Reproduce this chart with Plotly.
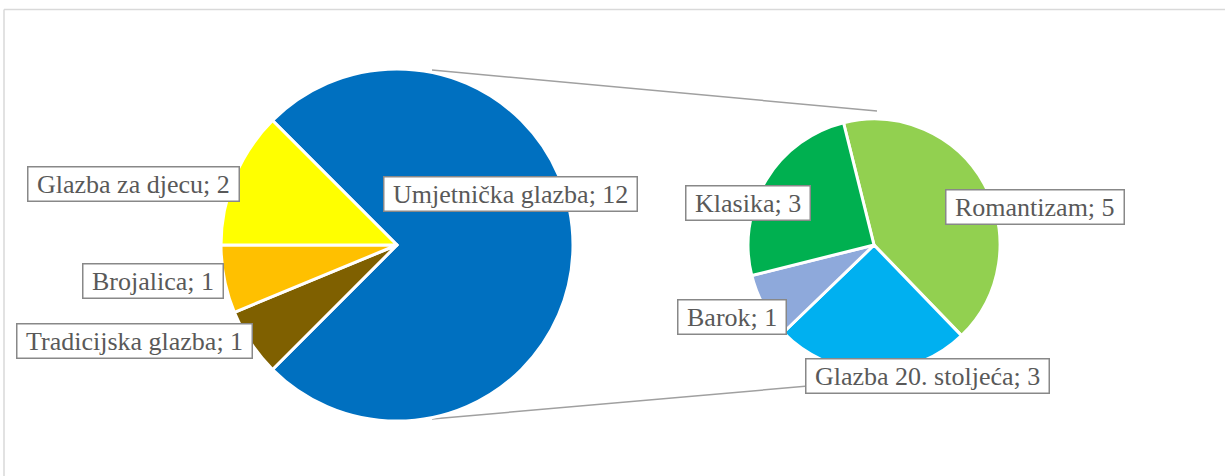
import plotly.graph_objects as go

W, H = 1225, 476

# main pie
main_labels = ['Umjetnička glazba', 'Tradicijska glazba', 'Brojalica', 'Glazba za djecu']
main_values = [12, 1, 1, 2]
main_colors = ['#0070C0', '#7F6000', '#FFC000', '#FFFF00']

# secondary pie (breakdown of Umjetnička glazba)
sub_labels = ['Romantizam', 'Glazba 20. stoljeća', 'Barok', 'Klasika']
sub_values = [5, 3, 1, 3]
sub_colors = ['#92D050', '#00B0F0', '#8EA9DB', '#00B050']

# label box centres in pixels
main_label_pos = [(510, 194), (134, 341), (153, 281), (133, 184)]
sub_label_pos = [(1035, 207), (927, 376), (732, 317), (748, 203)]


def px(x):
    return x / W


def py(y):
    return 1 - y / H


fig = go.Figure()

fig.add_trace(go.Pie(labels=main_labels, values=main_values,
                     marker=dict(colors=main_colors, line=dict(color='white', width=3)),
                     sort=False, direction='clockwise', rotation=-45,
                     textinfo='none', hoverinfo='label+value',
                     domain=dict(x=[px(221), px(573)], y=[py(421), py(69)])))

fig.add_trace(go.Pie(labels=sub_labels, values=sub_values,
                     marker=dict(colors=sub_colors, line=dict(color='white', width=3)),
                     sort=False, direction='clockwise', rotation=-14,
                     textinfo='none', hoverinfo='label+value',
                     domain=dict(x=[px(748), px(1000)], y=[py(371), py(119)])))

shapes = [
    # chart border (top and left only visible)
    dict(type='line', xref='paper', yref='paper', x0=px(4), y0=py(9.5), x1=1.0, y1=py(9.5),
         line=dict(color='#D9D9D9', width=1.5)),
    dict(type='line', xref='paper', yref='paper', x0=px(4), y0=py(9.5), x1=px(4), y1=0,
         line=dict(color='#D9D9D9', width=1.5)),
    # connector lines
    dict(type='line', xref='paper', yref='paper', x0=px(432), y0=py(70), x1=px(877), y1=py(111),
         line=dict(color='#A0A0A0', width=1.5), layer='below'),
    dict(type='line', xref='paper', yref='paper', x0=px(432), y0=py(419), x1=px(877), y1=py(380),
         line=dict(color='#A0A0A0', width=1.5), layer='below'),
]

annotations = []
for labels, values, pos in [(main_labels, main_values, main_label_pos),
                            (sub_labels, sub_values, sub_label_pos)]:
    for lab, val, (x, y) in zip(labels, values, pos):
        annotations.append(dict(
            text=f'\u00a0{lab}; {val}\u00a0', x=px(x), y=py(y), xref='paper', yref='paper',
            xanchor='center', yanchor='middle', showarrow=False,
            font=dict(family='Liberation Serif', size=26, color='#595959'),
            bgcolor='white', bordercolor='#888888', borderwidth=1.5, borderpad=2))

fig.update_layout(width=W, height=H, margin=dict(l=0, r=0, t=0, b=0),
                  paper_bgcolor='white', showlegend=False,
                  shapes=shapes, annotations=annotations)

# drop the default 8px page margin so the figure sits at the window corner
fig.write_html("out.html", config={'displayModeBar': False},
               post_script="document.body.style.margin='0px';")
